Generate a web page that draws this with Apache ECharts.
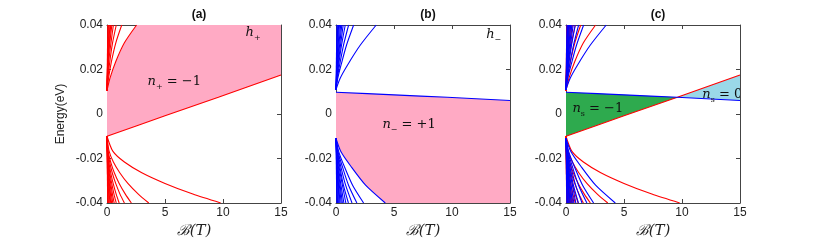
<!DOCTYPE html>
<html><head><meta charset="utf-8">
<script src="https://cdn.jsdelivr.net/npm/echarts@6/dist/echarts.min.js"></script>
<style>html,body{margin:0;padding:0;background:#fff}#c{width:817px;height:245px}</style>
</head><body><div id="c"></div>
<script>
// ---- data (B in tesla, energy in eV) ----
var panelTitles = ['(a)', '(b)', '(c)'];
var xTicks = [0, 5, 10, 15];
var yTicks = [-0.04, -0.02, 0, 0.02, 0.04];
var xMin = 0, xMax = 15, yMin = -0.04, yMax = 0.04;

// red (h+) Landau levels above the gap
var redUpper = [
  [[0,0.0105],[0.25,0.016],[0.75,0.0235],[1.5,0.032],[2.55,0.04]],
  [[0,0.0105],[0.13,0.016],[0.38,0.0235],[0.76,0.032],[1.27,0.04]],
  [[0,0.0105],[0.08,0.016],[0.24,0.0235],[0.48,0.032],[0.8,0.04]],
  [[0,0.0105],[0.06,0.017],[0.2,0.026],[0.55,0.04]],
  [[0,0.0105],[0.05,0.018],[0.16,0.028],[0.42,0.04]],
  [[0,0.0105],[0.1,0.024],[0.32,0.04]],
  [[0,0.0105],[0.08,0.024],[0.25,0.04]],
  [[0,0.0105],[0.06,0.024],[0.18,0.04]],
  [[0,0.0105],[0.12,0.04]],
  [[0,0.0105],[0.07,0.04]]
];
// red (h+) Landau levels below the gap
var redLower = [
  [[0,-0.01],[0.5,-0.0167],[1.5,-0.0216],[3,-0.0264],[5,-0.0312],[7.4,-0.036],[9.8,-0.04]],
  [[0,-0.01],[0.18,-0.0167],[0.55,-0.0216],[1.1,-0.0264],[1.8,-0.0312],[2.7,-0.036],[3.6,-0.04]],
  [[0,-0.01],[0.1,-0.0167],[0.32,-0.0216],[0.63,-0.0264],[1.05,-0.0312],[1.58,-0.036],[2.1,-0.04]],
  [[0,-0.01],[0.08,-0.0167],[0.23,-0.0216],[0.45,-0.0264],[0.75,-0.0312],[1.12,-0.036],[1.5,-0.04]],
  [[0,-0.01],[0.05,-0.0167],[0.16,-0.0216],[0.32,-0.0264],[0.53,-0.0312],[0.79,-0.036],[1.05,-0.04]],
  [[0,-0.01],[0.04,-0.0167],[0.24,-0.0264],[0.6,-0.036],[0.8,-0.04]],
  [[0,-0.01],[0.03,-0.0167],[0.19,-0.0264],[0.47,-0.036],[0.62,-0.04]],
  [[0,-0.01],[0.15,-0.0264],[0.38,-0.036],[0.5,-0.04]],
  [[0,-0.01],[0.12,-0.0264],[0.3,-0.036],[0.4,-0.04]],
  [[0,-0.01],[0.1,-0.0264],[0.32,-0.04]],
  [[0,-0.01],[0.08,-0.0264],[0.25,-0.04]],
  [[0,-0.01],[0.06,-0.0264],[0.18,-0.04]],
  [[0,-0.01],[0.04,-0.0264],[0.12,-0.04]],
  [[0,-0.01],[0.06,-0.04]]
];
// red n+ = -1 level
var redN = [[0,-0.01],[5,-0.0008],[9.6,0.0075],[15,0.0175]];

// blue (h-) Landau levels above the gap
var blueUpper = [
  [[0,0.011],[0.35,0.016],[1.05,0.0225],[2.1,0.031],[3.47,0.04]],
  [[0,0.011],[0.15,0.016],[0.46,0.0225],[0.91,0.031],[1.52,0.04]],
  [[0,0.011],[0.11,0.016],[0.33,0.0225],[0.65,0.031],[1.09,0.04]],
  [[0,0.011],[0.08,0.016],[0.24,0.0225],[0.48,0.031],[0.8,0.04]],
  [[0,0.011],[0.19,0.0225],[0.62,0.04]],
  [[0,0.011],[0.15,0.0225],[0.5,0.04]],
  [[0,0.011],[0.12,0.0225],[0.4,0.04]],
  [[0,0.011],[0.09,0.0225],[0.3,0.04]],
  [[0,0.011],[0.22,0.04]],
  [[0,0.011],[0.15,0.04]],
  [[0,0.011],[0.08,0.04]]
];
// blue (h-) Landau levels below the gap
var blueLower = [
  [[0,-0.011],[0.43,-0.017],[1.28,-0.0235],[2.55,-0.032],[4.25,-0.04]],
  [[0,-0.011],[0.24,-0.017],[0.71,-0.0235],[1.43,-0.032],[2.38,-0.04]],
  [[0,-0.011],[0.18,-0.017],[0.54,-0.0235],[1.08,-0.032],[1.8,-0.04]],
  [[0,-0.011],[0.14,-0.017],[0.41,-0.0235],[0.83,-0.032],[1.38,-0.04]],
  [[0,-0.011],[0.11,-0.017],[0.32,-0.0235],[0.64,-0.032],[1.07,-0.04]],
  [[0,-0.011],[0.26,-0.0235],[0.85,-0.04]],
  [[0,-0.011],[0.2,-0.0235],[0.68,-0.04]],
  [[0,-0.011],[0.16,-0.0235],[0.55,-0.04]],
  [[0,-0.011],[0.13,-0.0235],[0.45,-0.04]],
  [[0,-0.011],[0.1,-0.0235],[0.35,-0.04]],
  [[0,-0.011],[0.27,-0.04]],
  [[0,-0.011],[0.2,-0.04]],
  [[0,-0.011],[0.13,-0.04]],
  [[0,-0.011],[0.07,-0.04]]
];
// blue n- = +1 level
var blueN = [[0,0.0098],[5,0.0086],[9.6,0.0075],[15,0.0061]];

// annotation texts: [panel, B, E, text, align]
var labels = [
  [0, 5.8, 0.0146, '{i|n}{s|+}{t| = −1}', 'center'],
  [0, 12.6, 0.0364, '{i|h}{s|+}', 'center'],
  [1, 6.3, -0.0048, '{i|n}{s|−}{t| = +1}', 'center'],
  [1, 13.6, 0.0355, '{i|h}{s|−}', 'center'],
  [2, 0.55, 0.0022, '{i|n}{s|s}{t| = −1}', 'left'],
  [2, 11.75, 0.0086, '{i|n}{s|s}{t| = 0}', 'left']
];

// ---- styling / layout ----
var RED = '#ff0000', BLUE = '#0000ff', PINK = '#ffaac4', GREEN = '#2eaa4e', LIGHTBLUE = '#9ad8e8';
var gridLefts = [107, 336, 566];
var gridTop = 25, gridW = 174, gridH = 178;
var FONT = 'Liberation Sans';

var grids = [], xAxes = [], yAxes = [], series = [], titles = [];
gridLefts.forEach(function (l, p) {
  grids.push({left: l, top: gridTop, width: gridW, height: gridH, containLabel: false, outerBoundsMode: 'none'});
  var lineCol = '#444';
  // bottom x
  xAxes.push({gridIndex: p, type: 'value', min: xMin, max: xMax, interval: 5, position: 'bottom',
    axisLine: {show: true, onZero: false, lineStyle: {color: lineCol, width: 1}},
    axisTick: {show: true, inside: true, length: 4, lineStyle: {color: lineCol}},
    axisLabel: {color: '#222', fontSize: 12, fontFamily: FONT, margin: 4},
    splitLine: {show: false},
    name: 'ℬ(T)', nameLocation: 'middle', nameGap: 21,
    nameTextStyle: {fontFamily: 'DejaVu Serif', fontStyle: 'italic', fontSize: 15, color: '#222', verticalAlign: 'top'}});
  // top x
  xAxes.push({gridIndex: p, type: 'value', min: xMin, max: xMax, interval: 5, position: 'top',
    axisLine: {show: true, onZero: false, lineStyle: {color: lineCol, width: 1}},
    axisTick: {show: true, inside: true, length: 4, lineStyle: {color: lineCol}},
    axisLabel: {show: false}, splitLine: {show: false}});
  // left y
  yAxes.push({gridIndex: p, type: 'value', min: yMin, max: yMax, interval: 0.02, position: 'left',
    axisLine: {show: true, onZero: false, lineStyle: {color: lineCol, width: 1}},
    axisTick: {show: true, inside: true, length: 4, lineStyle: {color: lineCol}},
    axisLabel: {color: '#222', fontSize: 12, fontFamily: FONT, margin: 4,
      formatter: function (v) { return String(Math.round(v * 100) / 100); }},
    splitLine: {show: false},
    name: p === 0 ? 'Energy(eV)' : '', nameLocation: 'middle', nameGap: 40,
    nameTextStyle: {fontFamily: FONT, fontSize: 12, color: '#222'}});
  // right y
  yAxes.push({gridIndex: p, type: 'value', min: yMin, max: yMax, interval: 0.02, position: 'right',
    axisLine: {show: true, onZero: false, lineStyle: {color: lineCol, width: 1}},
    axisTick: {show: true, inside: true, length: 4, lineStyle: {color: lineCol}},
    axisLabel: {show: false}, splitLine: {show: false}});
  titles.push({text: panelTitles[p], left: l + gridW / 2, top: 4, textAlign: 'center',
    textStyle: {fontFamily: FONT, fontWeight: 'bold', fontSize: 12, color: '#111'}});
});

function polySeries(p, pts, color) {
  return {type: 'custom', xAxisIndex: p * 2, yAxisIndex: p * 2, clip: true, silent: true, z: 1,
    data: [[0, 0]],
    renderItem: function (params, api) {
      return {type: 'polygon', shape: {points: pts.map(function (q) { return api.coord(q); })},
        style: {fill: color, stroke: null}};
    }};
}
function lineSeries(p, pts, color, z) {
  return {type: 'line', xAxisIndex: p * 2, yAxisIndex: p * 2, data: pts, symbol: 'none',
    smooth: 0.25, silent: true, z: z || 3, clip: true,
    lineStyle: {color: color, width: 1.1}};
}

// panel a
var pinkA = redN.concat([[xMax, yMax]]).concat(redUpper[0].slice().reverse());
series.push(polySeries(0, pinkA, PINK));
redUpper.concat(redLower).forEach(function (c) { series.push(lineSeries(0, c, RED)); });
series.push(lineSeries(0, redN, RED));

// panel b
var pinkB = blueN.concat([[xMax, yMin]]).concat(blueLower[0].slice().reverse());
series.push(polySeries(1, pinkB, PINK));
blueUpper.concat(blueLower).forEach(function (c) { series.push(lineSeries(1, c, BLUE)); });
series.push(lineSeries(1, blueN, BLUE));

// panel c
var greenC = blueN.slice(0, 3).concat(redN.slice(0, 2).reverse());
var lightC = redN.slice(2).concat(blueN.slice(2).reverse());
series.push(polySeries(2, greenC, GREEN));
series.push(polySeries(2, lightC, LIGHTBLUE));
redUpper.concat(redLower).forEach(function (c) { series.push(lineSeries(2, c, RED, 3)); });
blueUpper.concat(blueLower).forEach(function (c) { series.push(lineSeries(2, c, BLUE, 4)); });
series.push(lineSeries(2, redN, RED, 5));
series.push(lineSeries(2, blueN, BLUE, 5));

// annotations
[0, 1, 2].forEach(function (p) {
  var items = labels.filter(function (r) { return r[0] === p; });
  series.push({type: 'custom', xAxisIndex: p * 2, yAxisIndex: p * 2, clip: true, silent: true, z: 10,
    data: items.map(function (r) { return [r[1], r[2]]; }),
    renderItem: function (params, api) {
      var r = items[params.dataIndex];
      var pt = api.coord([api.value(0), api.value(1)]);
      return {type: 'text', x: pt[0], y: pt[1],
        style: {text: r[3], align: r[4], verticalAlign: 'middle', fill: '#111',
          rich: {
            i: {fontFamily: 'DejaVu Serif', fontStyle: 'italic', fontSize: 13, fill: '#111', lineHeight: 18, verticalAlign: 'middle'},
            s: {fontFamily: 'DejaVu Serif', fontSize: 8, fill: '#111', lineHeight: 18, verticalAlign: 'bottom'},
            t: {fontFamily: 'DejaVu Serif', fontSize: 13, fill: '#111', lineHeight: 18, verticalAlign: 'middle'}
          }}};
    }});
});

var chart = echarts.init(document.getElementById('c'), null, {renderer: 'canvas'});
chart.setOption({animation: false, title: titles, grid: grids, xAxis: xAxes, yAxis: yAxes, series: series});
</script></body></html>
